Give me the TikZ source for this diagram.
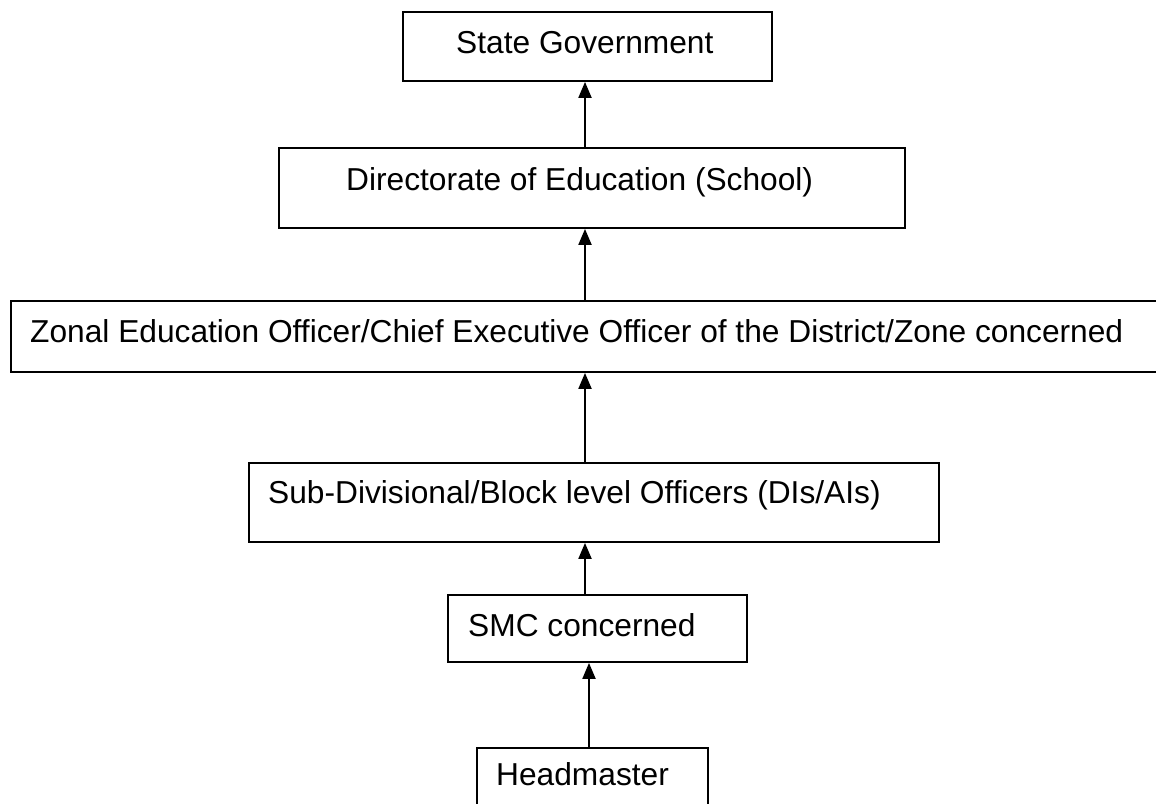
\documentclass[tikz,border=0pt]{standalone}
\usepackage{fontspec}
\setmainfont{Liberation Sans}
\usetikzlibrary{arrows.meta}
\begin{document}
\begin{tikzpicture}[x=1pt,y=-1pt,
  box/.style={draw=black,line width=1.8pt,rectangle,inner sep=0pt},
  txt/.style={anchor=base west,inner sep=0pt,font=\fontsize{31.7}{36}\selectfont},
  arr/.style={line width=2pt,-{Triangle[length=16pt,width=13pt]}}]
\useasboundingbox (0,0) rectangle (1156,803);
% boxes
\node[box,minimum width=369pt,minimum height=69pt] (b1) at (587.5,46.5) {};
\node[box,minimum width=626pt,minimum height=80pt] (b2) at (592,188) {};
\node[box,minimum width=1149pt,minimum height=71pt] (b3) at (585.5,336.5) {};
\node[box,minimum width=690pt,minimum height=79pt] (b4) at (594,502.5) {};
\node[box,minimum width=299pt,minimum height=67pt] (b5) at (597.5,628.5) {};
\node[box,minimum width=231pt,minimum height=62pt] (b6) at (592.5,779) {};
% texts
\node[txt] (t1) at (456,53) {State Government};
\node[txt] (t2) at (346,190) {Directorate of Education (School)};
\node[txt] (t3) at (30,342) {Zonal Education Officer/Chief Executive Officer of the District/Zone concerned};
\node[txt] (t4) at (268,503) {Sub-Divisional/Block level Officers (DIs/AIs)};
\node[txt] (t5) at (468,636) {SMC concerned};
\node[txt] (t6) at (496,785) {Headmaster};
% connectors
\draw[arr] (b2.north -| 585,0) -- (b1.south -| 585,0);
\draw[arr] (b3.north -| 585,0) -- (b2.south -| 585,0);
\draw[arr] (b4.north -| 585,0) -- (b3.south -| 585,0);
\draw[arr] (b5.north -| 585,0) -- (b4.south -| 585,0);
\draw[arr] (b6.north -| 589,0) -- (b5.south -| 589,0);
\end{tikzpicture}
\end{document}
